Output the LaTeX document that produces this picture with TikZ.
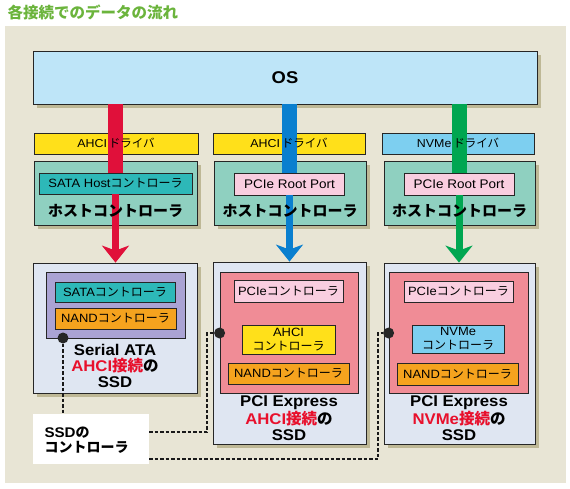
\documentclass[tikz,border=0pt]{standalone}
\usepackage{fontspec}
\setmainfont{Liberation Sans}[FakeStretch=1.08]
\newfontfamily\jpf{Noto Sans CJK JP}
\usetikzlibrary{arrows.meta,shadows}
\newcommand\fsz[2]{\fontsize{#1}{#2}\selectfont}
\definecolor{panelc}{RGB}{232,229,213}
\definecolor{shadowc}{RGB}{190,184,150}
\definecolor{osblue}{RGB}{190,229,248}
\definecolor{yel}{RGB}{255,224,26}
\definecolor{nvblue}{RGB}{125,207,240}
\definecolor{hostc}{RGB}{143,208,192}
\definecolor{tealc}{RGB}{45,184,184}
\definecolor{pinkl}{RGB}{249,206,224}
\definecolor{redbar}{RGB}{224,16,58}
\definecolor{bluebar}{RGB}{10,127,207}
\definecolor{greenbar}{RGB}{0,166,81}
\definecolor{ssdc}{RGB}{223,230,242}
\definecolor{purp}{RGB}{170,163,211}
\definecolor{orangec}{RGB}{245,163,30}
\definecolor{pinkd}{RGB}{240,140,150}
\definecolor{redtxt}{RGB}{232,16,44}
\definecolor{titlegreen}{RGB}{107,180,60}
\begin{document}
\begin{tikzpicture}[x=1pt,y=-1pt,
  box/.style={draw=black!85,line width=0.8pt,inner sep=0pt},
  shad/.style={general shadow={fill=shadowc,shadow xshift=4pt,shadow yshift=-4pt}},
  bar/.style={line width=15pt},
  thinarrow/.style={line width=7pt,-{Stealth[width=27pt,length=17pt,inset=5pt]}},
  small/.style={font=\fsz{12}{14}},
  big/.style={font=\bfseries\fsz{15.5}{16},align=center},
  conn/.style={draw=black!90,line width=1.3pt,dash pattern=on 3.5pt off 2pt},
  dot/.style={circle,fill=black!85,minimum size=11pt,inner sep=0pt}]
\useasboundingbox (0,0) rectangle (570,488);
\fill[panelc] (5,26) rectangle (566,483);
\node[anchor=west,text=titlegreen,font=\jpf\bfseries\fsz{15.5}{17}] (title) at (4,12) {各接続でのデータの流れ};
% OS
\node[box,shad,fill=osblue,minimum width=504pt,minimum height=53pt,font=\bfseries\fsz{17}{19}] (os) at (285,77.5) {OS};
% drivers
\node[box,fill=yel,minimum width=164pt,minimum height=21pt] (drv1) at (116,143.5) {};
\node[box,fill=yel,minimum width=152pt,minimum height=21pt] (drv2) at (289,143.5) {};
\node[box,fill=nvblue,minimum width=152pt,minimum height=21pt] (drv3) at (458,143.5) {};
% host boxes
\node[box,shad,fill=hostc,minimum width=163pt,minimum height=64pt] (host1) at (115.5,193) {};
\node[box,shad,fill=hostc,minimum width=152pt,minimum height=64pt] (host2) at (290,193) {};
\node[box,shad,fill=hostc,minimum width=151pt,minimum height=64pt] (host3) at (459.5,193) {};
\node[box,fill=tealc,minimum width=153pt,minimum height=21pt,small] (hc1) at (115.5,183.5) {SATA Host{\jpf コントローラ}};
\node[box,fill=pinkl,minimum width=110pt,minimum height=22pt,font=\fsz{12.5}{14}] (hc2) at (289.5,184) {PCIe Root Port};
\node[box,fill=pinkl,minimum width=110pt,minimum height=22pt,font=\fsz{12.5}{14}] (hc3) at (459,184) {PCIe Root Port};
% SSD 1
\node[box,shad,fill=ssdc,minimum width=164pt,minimum height=130pt] (ssd1) at (115,328) {};
\node[box,fill=purp,minimum width=139pt,minimum height=66pt] (in1) at (115.5,305) {};
\node[box,fill=tealc,minimum width=120pt,minimum height=20pt,small] (sata1) at (115,292) {SATA{\jpf コントローラ}};
\node[box,fill=orangec,minimum width=121pt,minimum height=21pt,small] (nand1) at (115.5,318.5) {NAND{\jpf コントローラ}};
\node[big] (ssd1t) at (115,366) {Serial ATA\\{\color{redtxt}AHCI{\jpf 接続}}{\jpf の}\\SSD};
% SSD 2
\node[box,shad,fill=ssdc,minimum width=153pt,minimum height=182pt] (ssd2) at (289.5,353) {};
\node[box,fill=pinkd,minimum width=138pt,minimum height=121pt] (in2) at (289,332.5) {};
\node[box,fill=pinkl,minimum width=109pt,minimum height=22pt,small] (pc2) at (288.5,291) {PCIe{\jpf コントローラ}};
\node[box,fill=yel,minimum width=93pt,minimum height=29pt,small,align=center] (ah2) at (288.5,339.5) {AHCI\\{\jpf コントローラ}};
\node[box,fill=orangec,minimum width=121pt,minimum height=21pt,small] (nand2) at (288.5,373.5) {NAND{\jpf コントローラ}};
\node[big] (ssd2t) at (289,418) {PCI Express\\{\color{redtxt}AHCI{\jpf 接続}}{\jpf の}\\SSD};
% SSD 3
\node[box,shad,fill=ssdc,minimum width=151pt,minimum height=181pt] (ssd3) at (459.5,353.5) {};
\node[box,fill=pinkd,minimum width=139pt,minimum height=121pt] (in3) at (458.5,332.5) {};
\node[box,fill=pinkl,minimum width=109pt,minimum height=21pt,small] (pc3) at (458.5,291.5) {PCIe{\jpf コントローラ}};
\node[box,fill=nvblue,minimum width=92pt,minimum height=28pt,small,align=center] (nv3) at (458,339) {NVMe\\{\jpf コントローラ}};
\node[box,fill=orangec,minimum width=121pt,minimum height=22pt,small] (nand3) at (457.5,374) {NAND{\jpf コントローラ}};
\node[big] (ssd3t) at (459,418) {PCI Express\\{\color{redtxt}NVMe{\jpf 接続}}{\jpf の}\\SSD};
% thick bars
\draw[bar,redbar] (os.south -| hc1) -- (hc1.north);
\draw[bar,bluebar] (os.south -| hc2) -- (hc2.north);
\draw[bar,greenbar] (os.south -| hc3) -- (hc3.north);
% thin arrows
\draw[thinarrow,redbar] (hc1.south) -- (ssd1.north -| hc1);
\draw[thinarrow,bluebar] (hc2.south) -- (ssd2.north -| hc2);
\draw[thinarrow,greenbar] (hc3.south) -- (ssd3.north -| hc3);
% texts on top
\node[font=\fsz{11.5}{13}] (drv1t) at (drv1) {AHCI\,{\jpf ドライバ}};
\node[font=\fsz{11.5}{13}] (drv2t) at (drv2) {AHCI\,{\jpf ドライバ}};
\node[font=\fsz{11.5}{13}] (drv3t) at (drv3) {NVMe\,{\jpf ドライバ}};
\node[font=\jpf\bfseries\fsz{15}{17}] (host1t) at (115.5,211) {ホストコントローラ};
\node[font=\jpf\bfseries\fsz{15}{17}] (host2t) at (290,211) {ホストコントローラ};
\node[font=\jpf\bfseries\fsz{15}{17}] (host3t) at (459.5,211) {ホストコントローラ};
% label
\node[fill=white,minimum width=116pt,minimum height=50pt,inner sep=0pt] (lbl) at (91,439) {};
\node[anchor=west,font=\bfseries\fsz{14}{14.5},align=left] (lblt) at (41,440) {SSD{\jpf の}\\{\jpf コントローラ}};
% dots
\node[dot] (d1) at (63,338) {};
\node[dot] (d2) at (in2.west |- 0,333) {};
\node[dot] (d3) at (in3.west |- 0,333) {};
\coordinate (l2) at (149,432);
\coordinate (l3) at (149,459);
\draw[conn] (d1) -- (d1 |- lbl.north);
\draw[conn] (l2) -- ++(58,0) |- (d2);
\draw[conn] (l3) -- ++(229,0) |- (d3);
\end{tikzpicture}
\end{document}
